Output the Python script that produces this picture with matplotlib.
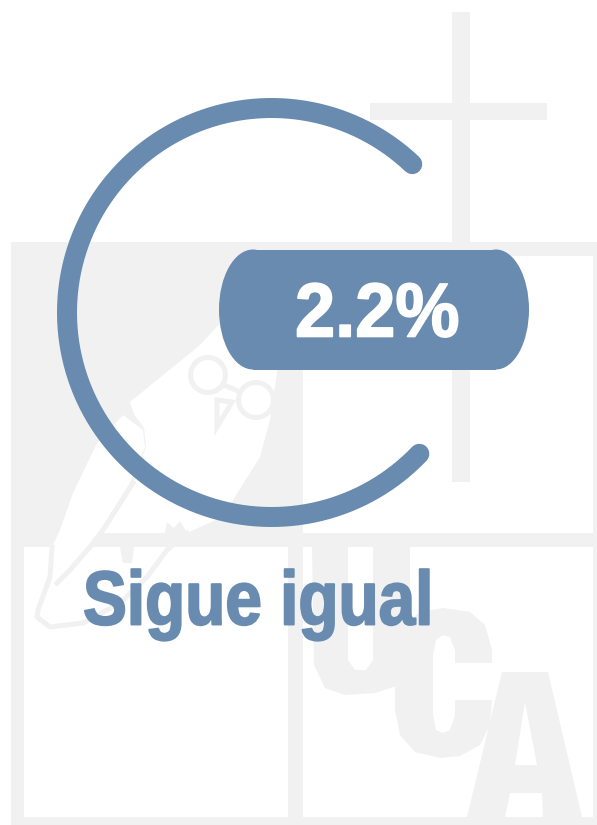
import numpy as np
import matplotlib
matplotlib.use("Agg")
import matplotlib.pyplot as plt
from matplotlib.patches import Rectangle, Ellipse, Polygon, Circle
from matplotlib.patheffects import AbstractPathEffect
from matplotlib.transforms import Affine2D

# values shown in the gauge
label = "Sigue igual"
value_text = "2.2%"
arc_start_deg = 46.5
arc_end_deg = 316.3

BLUE = "#688BAF"
GRAY = "#F1F1F1"

# watermark shapes, in picture pixels
gray_rects = [
    (452, 12, 18, 470),
    (370, 103, 177, 17),
    (11, 242, 586, 14),
    (11, 533, 586, 14),
    (11, 242, 13, 575),
    (288, 242, 15, 575),
    (593, 242, 4, 575),
    (11, 817, 586, 8),
    (24, 256, 264, 277),
]
owl_body = [(225, 318), (200, 345), (130, 402), (134, 414), (144, 428), (146, 447), (133, 483),
            (103, 533), (187, 533), (220, 518), (233, 500), (260, 457), (270, 420), (277, 373), (277, 318)]
owl_wing = [(123, 415), (143, 430), (145, 447), (130, 483), (103, 530), (90, 547), (70, 570), (57, 583), (50, 578),
            (52, 547), (60, 530), (73, 493), (97, 443)]
tail_line = [(52, 547), (50, 577), (38, 610), (37, 617), (50, 627), (83, 623), (120, 603),
             (147, 577), (167, 550), (187, 533)]
wing_line = [(133, 483), (103, 530), (90, 547), (70, 570), (57, 583)]
talon_a = [(120, 547), (123, 563), (132, 563), (134, 547)]
talon_b = [(165, 533), (167, 522), (174, 528), (180, 521), (187, 533)]
beak = [(217, 400), (217, 427), (232, 402)]
glasses = [(208, 375), (256, 400)]
bridge = [(224, 385), (240, 392)]

letter_u = [(312, 547), (348, 547), (348, 660), (355, 670), (366, 670), (373, 660), (373, 547), (410, 547),
            (410, 660), (400, 685), (375, 693), (345, 695), (325, 688), (314, 665)]
letter_c = [(443, 608), (470, 612), (485, 625), (492, 650), (492, 663), (455, 663), (455, 650), (450, 637), (443, 635),
            (436, 640), (433, 655), (433, 715), (436, 730), (443, 733), (450, 730), (455, 715), (455, 700), (492, 700),
            (490, 725), (480, 745), (460, 756), (440, 758), (415, 752), (400, 735), (395, 710), (395, 650), (402, 627), (420, 612)]
letter_a = [(502, 672), (548, 672), (582, 817), (543, 817), (542, 793), (510, 793), (505, 817), (467, 817)]
letter_a_hole = [(525, 702), (537, 765), (515, 765)]


class Squeeze(AbstractPathEffect):
    # narrows the glyphs around the text anchor and thickens them, no condensed font is installed
    def __init__(self, sx, color, stroke):
        self.sx = sx
        self.color = color
        self.stroke = stroke

    def draw_path(self, renderer, gc, tpath, affine, rgbFace=None):
        gc0 = renderer.new_gc()
        gc0.copy_properties(gc)
        gc0.set_foreground(self.color)
        gc0.set_linewidth(self.stroke)
        renderer.draw_path(gc0, tpath, Affine2D().scale(self.sx, 1) + affine, rgbFace)
        gc0.restore()


fig = plt.figure(figsize=(5.97, 8.25), dpi=100)
ax = fig.add_axes([0, 0, 1, 1])
ax.set_xlim(0, 597)
ax.set_ylim(825, 0)
ax.axis("off")

for x, y, w, h in gray_rects:
    ax.add_patch(Rectangle((x, y), w, h, fc=GRAY, ec="none", zorder=1))

ax.add_patch(Polygon(owl_body, fc="white", ec="none", zorder=2))
ax.add_patch(Polygon(owl_wing, fc="white", ec="none", zorder=2))
for cx, cy in glasses:
    ax.add_patch(Circle((cx, cy), 17.5, fc="white", ec=GRAY, lw=3.6, zorder=3))
ax.add_patch(Polygon(beak, fc="white", ec=GRAY, lw=3.6, zorder=3))
for line in [tail_line, wing_line, bridge]:
    xs, ys = zip(*line)
    ax.plot(xs, ys, color=GRAY, lw=3.6, zorder=3)
for talon in [talon_a, talon_b]:
    ax.add_patch(Polygon(talon, fc=GRAY, ec="none", zorder=3))

ax.add_patch(Polygon(letter_u, fc=GRAY, ec="none", zorder=3))
ax.add_patch(Polygon(letter_c, fc=GRAY, ec="none", zorder=3))
ax.add_patch(Polygon(letter_a, fc=GRAY, ec="none", zorder=3))
ax.add_patch(Polygon(letter_a_hole, fc="white", ec="none", zorder=4))

# ring, y axis is flipped so the angle is negated
theta = np.radians(np.linspace(arc_start_deg, arc_end_deg, 400))
ax.plot(271.5 + 204.5 * np.cos(theta), 312.5 - 204.5 * np.sin(theta),
        color=BLUE, lw=14.4, solid_capstyle="round", zorder=5)

# pill with elliptical ends
ax.add_patch(Rectangle((253, 249.5), 243, 120, fc=BLUE, ec="none", zorder=6))
ax.add_patch(Ellipse((253, 309.5), 68, 120, fc=BLUE, ec="none", zorder=6))
ax.add_patch(Ellipse((496, 309.5), 66, 120, fc=BLUE, ec="none", zorder=6))

ax.text(295, 336.5, value_text, color="white", fontsize=55, fontweight="bold",
        family="Liberation Sans", ha="left", va="baseline", zorder=7,
        path_effects=[Squeeze(0.945, "white", 1.2)])
ax.text(83, 624.5, label, color=BLUE, fontsize=55, fontweight="bold",
        family="Liberation Sans", ha="left", va="baseline", zorder=7,
        path_effects=[Squeeze(0.86, BLUE, 1.4)])

fig.savefig("out.png", dpi=100)
